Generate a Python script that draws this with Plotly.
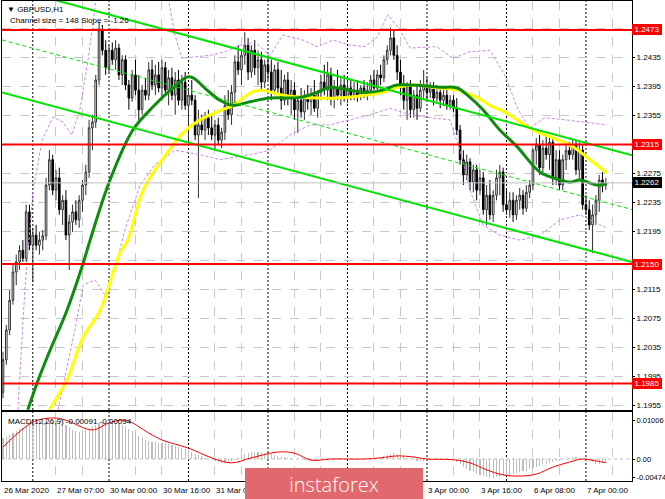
import plotly.graph_objects as go

# ---------------- data ----------------
bars = list(range(183))
opens = [
    1.1973, 1.2018, 1.2059, 1.2100, 1.2139, 1.2153, 1.2169, 1.2158, 1.2222, 1.2176,
    1.2190, 1.2176, 1.2183, 1.2189, 1.2259, 1.2294, 1.2252, 1.2269, 1.2225, 1.2238,
    1.2190, 1.2208, 1.2222, 1.2211, 1.2238, 1.2259, 1.2277, 1.2338, 1.2346, 1.2404,
    1.2473, 1.2445, 1.2421, 1.2445, 1.2432, 1.2448, 1.2411, 1.2432, 1.2397, 1.2379,
    1.2411, 1.2390, 1.2363, 1.2390, 1.2383, 1.2418, 1.2397, 1.2411, 1.2393, 1.2421,
    1.2390, 1.2407, 1.2383, 1.2404, 1.2376, 1.2401, 1.2369, 1.2383, 1.2376, 1.2328,
    1.2342, 1.2335, 1.2352, 1.2338, 1.2328, 1.2342, 1.2321, 1.2332, 1.2369, 1.2356,
    1.2387, 1.2429, 1.2418, 1.2438, 1.2452, 1.2415, 1.2445, 1.2421, 1.2432, 1.2401,
    1.2425, 1.2415, 1.2390, 1.2418, 1.2393, 1.2376, 1.2404, 1.2379, 1.2390, 1.2363,
    1.2376, 1.2360, 1.2379, 1.2374, 1.2383, 1.2365, 1.2387, 1.2401, 1.2390, 1.2411,
    1.2379, 1.2393, 1.2383, 1.2397, 1.2379, 1.2393, 1.2383, 1.2390, 1.2382, 1.2393,
    1.2385, 1.2390, 1.2404, 1.2393, 1.2411, 1.2407, 1.2432, 1.2445, 1.2462, 1.2438,
    1.2415, 1.2393, 1.2376, 1.2397, 1.2363, 1.2383, 1.2365, 1.2390, 1.2397, 1.2387,
    1.2393, 1.2379, 1.2387, 1.2376, 1.2383, 1.2369, 1.2376, 1.2365, 1.2335, 1.2294,
    1.2273, 1.2291, 1.2263, 1.2280, 1.2252, 1.2269, 1.2225, 1.2245, 1.2218, 1.2245,
    1.2269, 1.2277, 1.2232, 1.2225, 1.2238, 1.2218, 1.2238, 1.2245, 1.2227, 1.2249,
    1.2259, 1.2307, 1.2314, 1.2283, 1.2310, 1.2301, 1.2318, 1.2269, 1.2294, 1.2259,
    1.2294, 1.2307, 1.2301, 1.2314, 1.2280, 1.2307, 1.2232, 1.2225, 1.2204, 1.2218,
    1.2238, 1.2266, 1.2259]
highs = [
    1.2029, 1.2066, 1.2114, 1.2149, 1.2163, 1.2176, 1.2183, 1.2232, 1.2232, 1.2200,
    1.2204, 1.2194, 1.2197, 1.2269, 1.2307, 1.2301, 1.2280, 1.2283, 1.2245, 1.2252,
    1.2218, 1.2232, 1.2238, 1.2245, 1.2266, 1.2287, 1.2349, 1.2356, 1.2411, 1.2484,
    1.2480, 1.2459, 1.2452, 1.2456, 1.2459, 1.2454, 1.2438, 1.2438, 1.2404, 1.2418,
    1.2432, 1.2411, 1.2397, 1.2407, 1.2429, 1.2432, 1.2425, 1.2429, 1.2432, 1.2429,
    1.2418, 1.2421, 1.2415, 1.2418, 1.2411, 1.2415, 1.2390, 1.2404, 1.2383, 1.2363,
    1.2356, 1.2360, 1.2363, 1.2356, 1.2349, 1.2352, 1.2338, 1.2383, 1.2390, 1.2397,
    1.2438, 1.2452, 1.2445, 1.2470, 1.2462, 1.2452, 1.2459, 1.2445, 1.2443, 1.2432,
    1.2438, 1.2432, 1.2425, 1.2429, 1.2418, 1.2411, 1.2415, 1.2404, 1.2401, 1.2383,
    1.2393, 1.2390, 1.2397, 1.2393, 1.2404, 1.2390, 1.2411, 1.2425, 1.2429, 1.2421,
    1.2404, 1.2418, 1.2407, 1.2411, 1.2401, 1.2404, 1.2401, 1.2404, 1.2397, 1.2404,
    1.2401, 1.2411, 1.2418, 1.2418, 1.2425, 1.2438, 1.2452, 1.2476, 1.2473, 1.2452,
    1.2432, 1.2411, 1.2401, 1.2404, 1.2390, 1.2397, 1.2404, 1.2418, 1.2407, 1.2401,
    1.2401, 1.2397, 1.2393, 1.2390, 1.2393, 1.2383, 1.2383, 1.2379, 1.2342, 1.2307,
    1.2301, 1.2296, 1.2287, 1.2287, 1.2280, 1.2277, 1.2259, 1.2266, 1.2252, 1.2280,
    1.2287, 1.2283, 1.2252, 1.2249, 1.2249, 1.2245, 1.2255, 1.2252, 1.2259, 1.2266,
    1.2310, 1.2324, 1.2328, 1.2321, 1.2328, 1.2324, 1.2324, 1.2307, 1.2307, 1.2301,
    1.2314, 1.2318, 1.2321, 1.2321, 1.2318, 1.2314, 1.2245, 1.2238, 1.2232, 1.2245,
    1.2273, 1.2277, 1.2269]
lows = [
    1.1965, 1.2011, 1.2052, 1.2094, 1.2121, 1.2142, 1.2153, 1.2153, 1.2169, 1.2125,
    1.2169, 1.2163, 1.2169, 1.2183, 1.2252, 1.2245, 1.2238, 1.2218, 1.2204, 1.2183,
    1.2142, 1.2194, 1.2204, 1.2200, 1.2222, 1.2245, 1.2269, 1.2307, 1.2338, 1.2397,
    1.2438, 1.2411, 1.2415, 1.2425, 1.2418, 1.2404, 1.2397, 1.2390, 1.2363, 1.2374,
    1.2383, 1.2349, 1.2356, 1.2376, 1.2376, 1.2390, 1.2383, 1.2387, 1.2376, 1.2383,
    1.2369, 1.2376, 1.2356, 1.2369, 1.2363, 1.2363, 1.2321, 1.2369, 1.2321, 1.2241,
    1.2328, 1.2321, 1.2328, 1.2321, 1.2307, 1.2314, 1.2310, 1.2321, 1.2349, 1.2342,
    1.2369, 1.2411, 1.2397, 1.2425, 1.2404, 1.2407, 1.2411, 1.2397, 1.2390, 1.2393,
    1.2404, 1.2376, 1.2383, 1.2383, 1.2363, 1.2369, 1.2369, 1.2356, 1.2349, 1.2331,
    1.2352, 1.2349, 1.2363, 1.2356, 1.2360, 1.2352, 1.2376, 1.2383, 1.2376, 1.2369,
    1.2365, 1.2376, 1.2369, 1.2374, 1.2372, 1.2376, 1.2376, 1.2374, 1.2376, 1.2379,
    1.2376, 1.2382, 1.2390, 1.2387, 1.2397, 1.2401, 1.2425, 1.2438, 1.2432, 1.2404,
    1.2383, 1.2363, 1.2349, 1.2352, 1.2352, 1.2349, 1.2360, 1.2379, 1.2376, 1.2379,
    1.2369, 1.2374, 1.2365, 1.2368, 1.2363, 1.2363, 1.2360, 1.2328, 1.2287, 1.2259,
    1.2266, 1.2252, 1.2249, 1.2238, 1.2245, 1.2218, 1.2203, 1.2211, 1.2208, 1.2238,
    1.2245, 1.2222, 1.2218, 1.2214, 1.2208, 1.2211, 1.2225, 1.2218, 1.2222, 1.2241,
    1.2252, 1.2287, 1.2273, 1.2277, 1.2294, 1.2280, 1.2259, 1.2259, 1.2252, 1.2252,
    1.2280, 1.2294, 1.2294, 1.2273, 1.2266, 1.2225, 1.2218, 1.2197, 1.2165, 1.2204,
    1.2222, 1.2249, 1.2252]
closes = [
    1.2018, 1.2059, 1.2100, 1.2139, 1.2153, 1.2169, 1.2158, 1.2222, 1.2176, 1.2190,
    1.2176, 1.2183, 1.2189, 1.2259, 1.2294, 1.2252, 1.2269, 1.2225, 1.2238, 1.2190,
    1.2208, 1.2222, 1.2211, 1.2238, 1.2259, 1.2277, 1.2338, 1.2346, 1.2404, 1.2473,
    1.2445, 1.2421, 1.2445, 1.2432, 1.2448, 1.2411, 1.2432, 1.2397, 1.2379, 1.2411,
    1.2390, 1.2363, 1.2390, 1.2383, 1.2418, 1.2397, 1.2411, 1.2393, 1.2421, 1.2390,
    1.2407, 1.2383, 1.2404, 1.2376, 1.2401, 1.2369, 1.2383, 1.2376, 1.2328, 1.2342,
    1.2335, 1.2352, 1.2338, 1.2328, 1.2342, 1.2321, 1.2332, 1.2369, 1.2356, 1.2387,
    1.2429, 1.2418, 1.2438, 1.2452, 1.2415, 1.2445, 1.2421, 1.2432, 1.2401, 1.2425,
    1.2415, 1.2390, 1.2418, 1.2393, 1.2376, 1.2404, 1.2379, 1.2390, 1.2363, 1.2376,
    1.2360, 1.2379, 1.2374, 1.2383, 1.2365, 1.2387, 1.2401, 1.2390, 1.2411, 1.2379,
    1.2393, 1.2383, 1.2397, 1.2379, 1.2393, 1.2383, 1.2390, 1.2382, 1.2393, 1.2385,
    1.2390, 1.2404, 1.2393, 1.2411, 1.2407, 1.2432, 1.2445, 1.2462, 1.2438, 1.2415,
    1.2393, 1.2376, 1.2397, 1.2363, 1.2383, 1.2365, 1.2390, 1.2397, 1.2387, 1.2393,
    1.2379, 1.2387, 1.2376, 1.2383, 1.2369, 1.2376, 1.2365, 1.2335, 1.2294, 1.2273,
    1.2291, 1.2263, 1.2280, 1.2252, 1.2269, 1.2225, 1.2245, 1.2218, 1.2245, 1.2269,
    1.2277, 1.2232, 1.2225, 1.2238, 1.2218, 1.2238, 1.2245, 1.2227, 1.2249, 1.2259,
    1.2307, 1.2314, 1.2283, 1.2310, 1.2301, 1.2318, 1.2269, 1.2294, 1.2259, 1.2294,
    1.2307, 1.2301, 1.2314, 1.2280, 1.2307, 1.2232, 1.2225, 1.2204, 1.2218, 1.2238,
    1.2266, 1.2259, 1.2262]

ma_green_x = [7.5, 10.3, 14.2, 19.3, 24.2, 26.3, 32.3, 39.2, 45.3, 51.3, 55.5, 57.4, 61.6,
              65.5, 69.4, 74.6, 80.6, 89.7, 94.8, 98.7, 104.8, 108.7, 114.7, 118.9, 126.8,
              131.9, 137.1, 141.0, 144.9, 150.0, 155.2, 162.1, 168.2, 171.2, 174.2, 179.3, 182.0]
ma_green = [1.1949, 1.1986, 1.2031, 1.2086, 1.2151, 1.2183, 1.2266, 1.2335, 1.2367, 1.2393,
            1.2408, 1.2407, 1.2390, 1.2376, 1.2369, 1.2374, 1.2379, 1.2380, 1.2387, 1.2394,
            1.2390, 1.2387, 1.2390, 1.2397, 1.2396, 1.2394, 1.2393, 1.2380, 1.2363, 1.2335,
            1.2312, 1.2277, 1.2266, 1.2263, 1.2266, 1.2259, 1.2260]

ma_yellow_x = [14.0, 19.3, 24.2, 29.3, 35.3, 37.7, 42.3, 49.5, 54.3, 59.5, 64.6, 69.4, 74.6,
               77.6, 84.5, 94.8, 100.8, 107.8, 114.7, 118.9, 125.0, 131.0, 137.1, 143.1,
               147.0, 150.0, 152.2, 160.0, 166.0, 172.0, 177.2, 182.3]
ma_yellow = [1.1949, 1.1990, 1.2049, 1.2086, 1.2165, 1.2183, 1.2252, 1.2303, 1.2331, 1.2349,
             1.2360, 1.2369, 1.2386, 1.2390, 1.2383, 1.2379, 1.2379, 1.2382, 1.2387, 1.2394,
             1.2397, 1.2393, 1.2390, 1.2380, 1.2369, 1.2363, 1.2358, 1.2335, 1.2324, 1.2312,
             1.2294, 1.2276]

band_up_x = [4.5, 6.6, 9.1, 11.8, 15.1, 18.1, 20.8, 23.2, 25.7, 27.8, 29.3, 48.9, 51.9, 54.0,
             58.0, 62.5, 67.0, 71.5, 76.1, 80.6, 84.5, 90.6, 94.8, 99.6, 104.8, 109.3, 112.9,
             116.2, 119.8, 122.9, 131.0, 135.8, 141.0, 147.0, 151.5, 155.5, 159.1, 163.6,
             169.7, 175.7, 182.3]
band_up = [1.1949, 1.2114, 1.2252, 1.2321, 1.2353, 1.2346, 1.2328, 1.2363, 1.2432, 1.2507,
           1.2542, 1.2542, 1.2466, 1.2434, 1.2436, 1.2438, 1.2443, 1.2452, 1.2456, 1.2438,
           1.2466, 1.2459, 1.2450, 1.2459, 1.2452, 1.2450, 1.2463, 1.2494, 1.2473, 1.2448,
           1.2450, 1.2434, 1.2443, 1.2445, 1.2411, 1.2363, 1.2338, 1.2352, 1.2349, 1.2346,
           1.2342]
band_dn_x = [16.6, 21.7, 24.2, 27.8, 30.8, 33.8, 36.8, 41.4, 45.9, 51.9, 59.5, 65.5, 74.6,
             80.6, 86.6, 92.7, 98.7, 104.8, 110.8, 116.8, 122.9, 128.9, 134.9, 138.0, 141.0,
             144.9, 150.0, 156.1, 162.1, 168.2, 174.2, 180.2, 182.3]
band_dn = [1.1949, 1.2059, 1.2121, 1.2128, 1.2107, 1.2142, 1.2197, 1.2259, 1.2287, 1.2307,
           1.2301, 1.2294, 1.2301, 1.2307, 1.2328, 1.2342, 1.2342, 1.2349, 1.2356, 1.2365,
           1.2356, 1.2352, 1.2349, 1.2307, 1.2252, 1.2204, 1.2190, 1.2183, 1.2190, 1.2211,
           1.2218, 1.2204, 1.2200]

channel_x = [-0.3, 189.9]
channel_upper = [1.25340, 1.23000]
channel_mid = [1.24592, 1.22252]
channel_lower = [1.23868, 1.21528]

levels = [1.2473, 1.2315, 1.2150, 1.1985]
bid_price = 1.2262

price_ticks = [1.1955, 1.1995, 1.2035, 1.2075, 1.2115, 1.2155, 1.2195, 1.2235, 1.2275,
               1.2315, 1.2355, 1.2395, 1.2435, 1.2475]
price_tick_text = ["1.1955", "1.1995", "1.2035", "1.2075", "1.2115", "", "1.2195", "1.2235",
                   "1.2275", "", "1.2355", "1.2395", "1.2435", ""]

macd_hist = [
    0.0054, 0.0058, 0.0063, 0.0068, 0.0073, 0.0077, 0.0081, 0.0085, 0.0090, 0.0094,
    0.0096, 0.0097, 0.0098, 0.0098, 0.0099, 0.0099, 0.0098, 0.0096, 0.0092, 0.0088,
    0.0082, 0.0076, 0.0072, 0.0070, 0.0071, 0.0074, 0.0078, 0.0084, 0.0089, 0.0093,
    0.0095, 0.0095, 0.0094, 0.0094, 0.0093, 0.0092, 0.0089, 0.0084, 0.0078, 0.0072,
    0.0066, 0.0060, 0.0055, 0.0050, 0.0046, 0.0044, 0.0043, 0.0042, 0.0041, 0.0040,
    0.0038, 0.0036, 0.0033, 0.0030, 0.0028, 0.0025, 0.0022, 0.0018, 0.0014, 0.0010,
    0.0007, 0.0003, 0.0000, -0.0003, -0.0006, -0.0008, -0.0010, -0.0010, -0.0009, -0.0006,
    -0.0002, 0.0003, 0.0008, 0.0012, 0.0015, 0.0017, 0.0018, 0.0018, 0.0017, 0.0016,
    0.0014, 0.0012, 0.0010, 0.0008, 0.0006, 0.0004, 0.0003, 0.0002, 0.0001, 0.0000,
    -0.0001, -0.0002, -0.0003, -0.0003, -0.0002, -0.0002, -0.0001, 0.0000, 0.0001, 0.0000,
    -0.0001, -0.0002, -0.0002, -0.0001, 0.0000, 0.0001, 0.0001, 0.0000, 0.0000, -0.0001,
    -0.0001, 0.0000, 0.0001, 0.0002, 0.0004, 0.0007, 0.0010, 0.0013, 0.0015, 0.0014,
    0.0011, 0.0007, 0.0003, 0.0000, -0.0003, -0.0005, -0.0005, -0.0004, -0.0003, -0.0003,
    -0.0003, -0.0003, -0.0002, -0.0002, -0.0002, -0.0003, -0.0004, -0.0008, -0.0014, -0.0020,
    -0.0025, -0.0030, -0.0034, -0.0038, -0.0042, -0.0045, -0.0047, -0.0048, -0.0048, -0.0047,
    -0.0046, -0.0044, -0.0042, -0.0040, -0.0038, -0.0036, -0.0034, -0.0032, -0.0030, -0.0027,
    -0.0023, -0.0020, -0.0017, -0.0014, -0.0012, -0.0010, -0.0008, -0.0006, -0.0004, -0.0002,
    0.0000, 0.0002, 0.0004, 0.0004, 0.0002, 0.0000, -0.0003, -0.0006, -0.0009, -0.0012,
    -0.0013, -0.0011, -0.00091]
signal_x = [0, 9, 15, 19, 27, 32, 37, 44, 48, 56, 63, 69, 75, 83, 88, 93, 99, 109, 114, 119,
            124, 128, 136, 141, 146, 151, 156, 161, 166, 171, 175, 179, 182]
signal = [0.0031, 0.0095, 0.0106, 0.0100, 0.0075, 0.0093, 0.0100, 0.0067, 0.0049, 0.0028,
          0.0003, -0.0010, 0.0003, 0.0018, 0.0015, -0.0003, 0.0000, 0.0000, 0.0003, 0.0008,
          0.0005, 0.0000, -0.0002, -0.0010, -0.0028, -0.0041, -0.0044, -0.0039, -0.0021,
          -0.0008, 0.0000, -0.0005, -0.00094]
macd_ticks = [0.01006, 0.0, -0.00474]
macd_tick_text = ["0.01006", "0.00", "-0.00474"]

time_label_bars = [0, 16, 32, 48, 64, 80, 96, 112, 128, 144, 160, 176]
time_labels = ["26 Mar 2020", "27 Mar 07:00", "30 Mar 00:00", "30 Mar 16:00", "31 Mar 08:00",
               "1 Apr 00:00", "1 Apr 16:00", "2 Apr 08:00", "3 Apr 00:00", "3 Apr 16:00",
               "6 Apr 08:00", "7 Apr 00:00"]
day_separators = [9, 32, 56, 80, 104, 128, 152, 176]
grid_bars = [16, 24, 40, 48, 64, 72, 88, 96, 112, 120, 136, 144, 160, 168, 184]

# ---------------- figure ----------------
FONT = "Liberation Sans"
fig = go.Figure()

fig.add_trace(go.Candlestick(
    x=bars, open=opens, high=highs, low=lows, close=closes,
    increasing=dict(line=dict(color="#303030", width=1), fillcolor="white"),
    decreasing=dict(line=dict(color="#000000", width=1), fillcolor="black"),
    whiskerwidth=0, xaxis="x", yaxis="y", showlegend=False, hoverinfo="skip"))

violet = "#C98BE0"
fig.add_trace(go.Scatter(x=band_up_x, y=band_up, mode="lines", xaxis="x", yaxis="y",
                         line=dict(color=violet, width=1, dash="3px,2px"), showlegend=False))
fig.add_trace(go.Scatter(x=band_dn_x, y=band_dn, mode="lines", xaxis="x", yaxis="y",
                         line=dict(color=violet, width=1, dash="3px,2px"), showlegend=False))
fig.add_trace(go.Scatter(x=ma_yellow_x, y=ma_yellow, mode="lines", xaxis="x", yaxis="y",
                         line=dict(color="#FFFF00", width=3, shape="spline"), showlegend=False))
fig.add_trace(go.Scatter(x=ma_green_x, y=ma_green, mode="lines", xaxis="x", yaxis="y",
                         line=dict(color="#0E8C0E", width=3, shape="spline"), showlegend=False))

green = "#00E400"
fig.add_trace(go.Scatter(x=channel_x, y=channel_upper, mode="lines", xaxis="x", yaxis="y",
                         line=dict(color=green, width=2), showlegend=False))
fig.add_trace(go.Scatter(x=channel_x, y=channel_lower, mode="lines", xaxis="x", yaxis="y",
                         line=dict(color=green, width=2), showlegend=False))
fig.add_trace(go.Scatter(x=channel_x, y=channel_mid, mode="lines", xaxis="x", yaxis="y",
                         line=dict(color=green, width=1, dash="4px,3px"), showlegend=False))

fig.add_trace(go.Scatter(x=channel_x, y=[bid_price, bid_price], mode="lines", xaxis="x", yaxis="y",
                         line=dict(color="#C0C0C0", width=1), showlegend=False))
for lvl in levels:
    fig.add_trace(go.Scatter(x=channel_x, y=[lvl, lvl], mode="lines", xaxis="x", yaxis="y",
                             line=dict(color="#FF0000", width=2), showlegend=False))

fig.add_trace(go.Bar(x=bars, y=macd_hist, xaxis="x2", yaxis="y2", width=0.35,
                     marker=dict(color="#BDBDBD", line=dict(width=0)), showlegend=False))
fig.add_trace(go.Scatter(x=signal_x, y=signal, mode="lines", xaxis="x2", yaxis="y2",
                         line=dict(color="#FF0000", width=1, shape="spline"), showlegend=False))

shapes = []
for d in day_separators:
    for yr in ("y domain", "y2 domain"):
        shapes.append(dict(type="line", xref="x", yref=yr, x0=d, x1=d, y0=0, y1=1,
                           line=dict(color="#000000", width=1, dash="2px,2px"), layer="below"))
shapes.append(dict(type="line", xref="x2 domain", yref="y2", x0=0, x1=1, y0=0, y1=0,
                   line=dict(color="#BBBBBB", width=1, dash="3px,3px"), layer="below"))

annotations = []
tf = dict(family=FONT, size=8, color="#000000")
annotations.append(dict(text="▼ GBPUSD,H1", xref="paper", yref="paper", x=0.004, y=1,
                        xanchor="left", yanchor="top", yshift=-2, showarrow=False, font=tf))
annotations.append(dict(text="Channel size = 148 Slope = -1.26", xref="paper", yref="paper",
                        x=0.009, y=1, xanchor="left", yanchor="top", yshift=-13,
                        showarrow=False, font=tf))
annotations.append(dict(text="MACD(12,26,9) -0.00091 -0.00094", xref="paper", yref="y2 domain",
                        x=0.006, y=1, xanchor="left", yanchor="top", yshift=-3,
                        showarrow=False, font=tf))
for b, t in zip(time_label_bars, time_labels):
    annotations.append(dict(text=t, xref="x2", yref="paper", x=b, y=0, xanchor="left",
                            yanchor="top", yshift=-3, xshift=-1, showarrow=False, font=tf))
for lvl in levels:
    annotations.append(dict(text=f"{lvl:.4f}", xref="paper", yref="y", x=1, y=lvl,
                            xanchor="left", yanchor="middle", showarrow=False,
                            bgcolor="#FF0000", borderpad=1, borderwidth=0, width=28,
                            font=dict(family=FONT, size=8, color="white")))
annotations.append(dict(text=f"{bid_price:.4f}", xref="paper", yref="y", x=1, y=bid_price,
                        xanchor="left", yanchor="middle", showarrow=False,
                        bgcolor="#000000", borderpad=1, borderwidth=0, width=28,
                        font=dict(family=FONT, size=8, color="white")))
annotations.append(dict(text="instaforex", xref="paper", yref="paper",
                        x=(245 - 2) / 630, y=(481 - 468) / 480, xanchor="left", yanchor="top",
                        width=178, height=32, borderpad=0, borderwidth=0,
                        bgcolor="#E1686C", showarrow=False, align="center", valign="middle",
                        font=dict(family="Open Sans", size=20, color="white", weight=300)))

axis_common = dict(showline=True, linecolor="#000000", linewidth=1, mirror=True,
                   zeroline=False)
fig.update_layout(
    width=665, height=499,
    margin=dict(l=2, r=33, t=1, b=18, autoexpand=False),
    paper_bgcolor="white", plot_bgcolor="white",
    hovermode=False, showlegend=False, bargap=0,
    xaxis=dict(domain=[0, 1], range=[-0.3, 189.9], anchor="y", tickvals=grid_bars,
               showticklabels=False, showgrid=True, gridcolor="#C8C8C8", griddash="dash",
               ticks="", rangeslider=dict(visible=False), **axis_common),
    xaxis2=dict(domain=[0, 1], range=[-0.3, 189.9], anchor="y2", matches="x",
                tickvals=grid_bars, showticklabels=False, showgrid=True, gridcolor="#C8C8C8",
                griddash="dash", ticks="", rangeslider=dict(visible=False), **axis_common),
    yaxis=dict(domain=[71 / 480, 1], range=[1.19486, 1.25130], side="right", anchor="x",
               tickvals=price_ticks, ticktext=price_tick_text, showgrid=True,
               gridcolor="#C8C8C8", griddash="dash", ticks="outside", ticklen=2,
               tickcolor="#000000", tickfont=dict(family=FONT, size=8, color="#000000"),
               automargin=False, **axis_common),
    yaxis2=dict(domain=[0, 69 / 480], range=[-0.005675, 0.012123], side="right", anchor="x2",
                tickvals=macd_ticks, ticktext=macd_tick_text, showgrid=False,
                ticks="outside", ticklen=2, tickcolor="#000000",
                tickfont=dict(family=FONT, size=7.5, color="#000000"),
                automargin=False, **axis_common),
    shapes=shapes,
    annotations=annotations,
)

fig.write_html("out.html", config={"displayModeBar": False, "staticPlot": True},
               post_script="document.body.style.margin='0';document.body.style.overflow='hidden';")
